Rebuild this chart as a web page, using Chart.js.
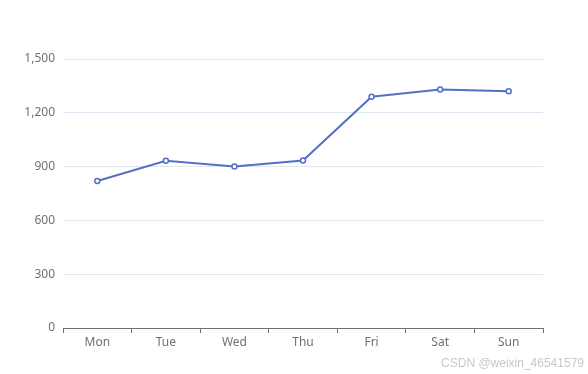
<!DOCTYPE html>
<html>
<head>
<meta charset="utf-8">
<script src="https://cdn.jsdelivr.net/npm/chart.js@4.4.0/dist/chart.umd.min.js"></script>
<style>
	body {margin: 0; background: #fff;}
	#wrap {position: relative; width: 588px; height: 374px;}
	#mark {position: absolute; right: 4px; top: 356px; font: 12px "Liberation Sans", Arial, sans-serif; color: #c8c8c8;}
</style>
</head>
<body>
<div id="wrap">
	<canvas id="line-chart"></canvas>
	<div id="mark">CSDN @weixin_46541579</div>
</div>
<script>
const _dias = ['Mon', 'Tue', 'Wed', 'Thu', 'Fri', 'Sat', 'Sun'];
const _valores = [820, 932, 901, 934, 1290, 1330, 1320];
const _ticks_y = [0, 300, 600, 900, 1200, 1500];

const gris = '#6E7079';
const fuente = {family: '"Noto Sans", sans-serif', size: 12};

let config = {
	type: 'line',
	data: {labels: _dias, datasets: [{
		data: _valores,
		borderColor: '#5470C6',
		borderWidth: 2,
		pointBackgroundColor: '#fff',
		pointBorderColor: '#5470C6',
		pointBorderWidth: 1.5,
		pointRadius: 2.5,
		tension: 0,
	}]},
	options: {
		responsive: true,
		maintainAspectRatio: false,
		animation: false,
		layout: {padding: {left: 0, right: 45, top: 59, bottom: 0}},
		plugins: {legend: {display: false}, tooltip: {enabled: false}},
		scales: {
			x: {
				offset: true,
				grid: {offset: true, drawOnChartArea: false, color: gris, tickLength: 5},
				border: {color: gris},
				ticks: {color: gris, font: fuente, padding: 2},
				afterFit: (s) => { s.height = 46; },
			},
			y: {
				min: 0, max: 1500,
				afterBuildTicks: (s) => { s.ticks = _ticks_y.map(v => ({value: v})); },
				grid: {color: '#E0E6F1', drawTicks: false},
				border: {display: false},
				ticks: {color: gris, font: fuente, padding: 8, callback: (v) => v.toLocaleString('en-US')},
				afterFit: (s) => { s.width = 63; },
			},
		},
	},
};

const grafico = new Chart(document.getElementById('line-chart'), config);
</script>
</body>
</html>
